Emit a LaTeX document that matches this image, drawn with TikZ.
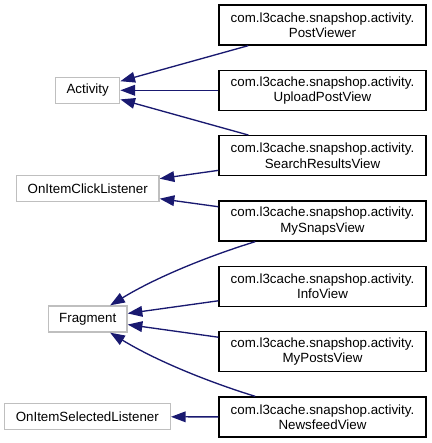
\documentclass[tikz,border=0pt]{standalone}
\usepackage{fontspec}
\setmainfont{Liberation Sans}
\usepackage{xcolor}
\usetikzlibrary{arrows.meta}
\definecolor{edgeblue}{HTML}{191970}
\definecolor{extgrey}{HTML}{BFBFBF}

\begin{document}
\begin{tikzpicture}[x=0.75pt, y=-0.75pt, font=\fontsize{10}{11.5}\selectfont,
  classbox/.style={draw=black, line width=1pt, align=center, inner sep=0pt,
    minimum width=155.25pt, minimum height=30pt},
  extbox/.style={draw=extgrey, line width=1pt, inner sep=0pt, minimum height=19.5pt},
  inherit/.style={draw=edgeblue, line width=1pt, -{Triangle[length=11pt, width=8pt]}}]
  \useasboundingbox (0,0) rectangle (432,443);
  % base classes
  \node[extbox, minimum width=48pt] (act) at (87.7,90.3) {Activity};
  \node[extbox, minimum width=107pt] (click) at (87.7,188.8) {OnItemClickListener};
  \node[extbox, minimum width=59pt] (frag) at (87.7,319) {Fragment};
  \node[extbox, minimum width=124.5pt] (select) at (87.3,416.7) {OnItemSelectedListener};
  % activity classes
  \node[classbox] (post) at (322.5,25) {com.l3cache.snapshop.activity.\\PostViewer};
  \node[classbox] (upload) at (322.5,90.3) {com.l3cache.snapshop.activity.\\UploadPostView};
  \node[classbox] (search) at (322.5,155.7) {com.l3cache.snapshop.activity.\\SearchResultsView};
  \node[classbox] (snaps) at (322.5,221) {com.l3cache.snapshop.activity.\\MySnapsView};
  \node[classbox] (info) at (322.5,286.3) {com.l3cache.snapshop.activity.\\InfoView};
  \node[classbox] (myposts) at (322.5,351.7) {com.l3cache.snapshop.activity.\\MyPostsView};
  \node[classbox] (feed) at (322.5,417) {com.l3cache.snapshop.activity.\\NewsfeedView};
  % inheritance
  \draw[inherit] (post) -- (act);
  \draw[inherit] (upload) -- (act);
  \draw[inherit] (search) -- (act);
  \draw[inherit] (search) -- (click);
  \draw[inherit] (snaps) -- (click);
  \draw[inherit] (snaps) .. controls (215,254) and (160,275) .. (frag);
  \draw[inherit] (info) -- (frag);
  \draw[inherit] (myposts) -- (frag);
  \draw[inherit] (feed) .. controls (215,384) and (160,363) .. (frag);
  \draw[inherit] (feed) -- (select);
\end{tikzpicture}
\end{document}
